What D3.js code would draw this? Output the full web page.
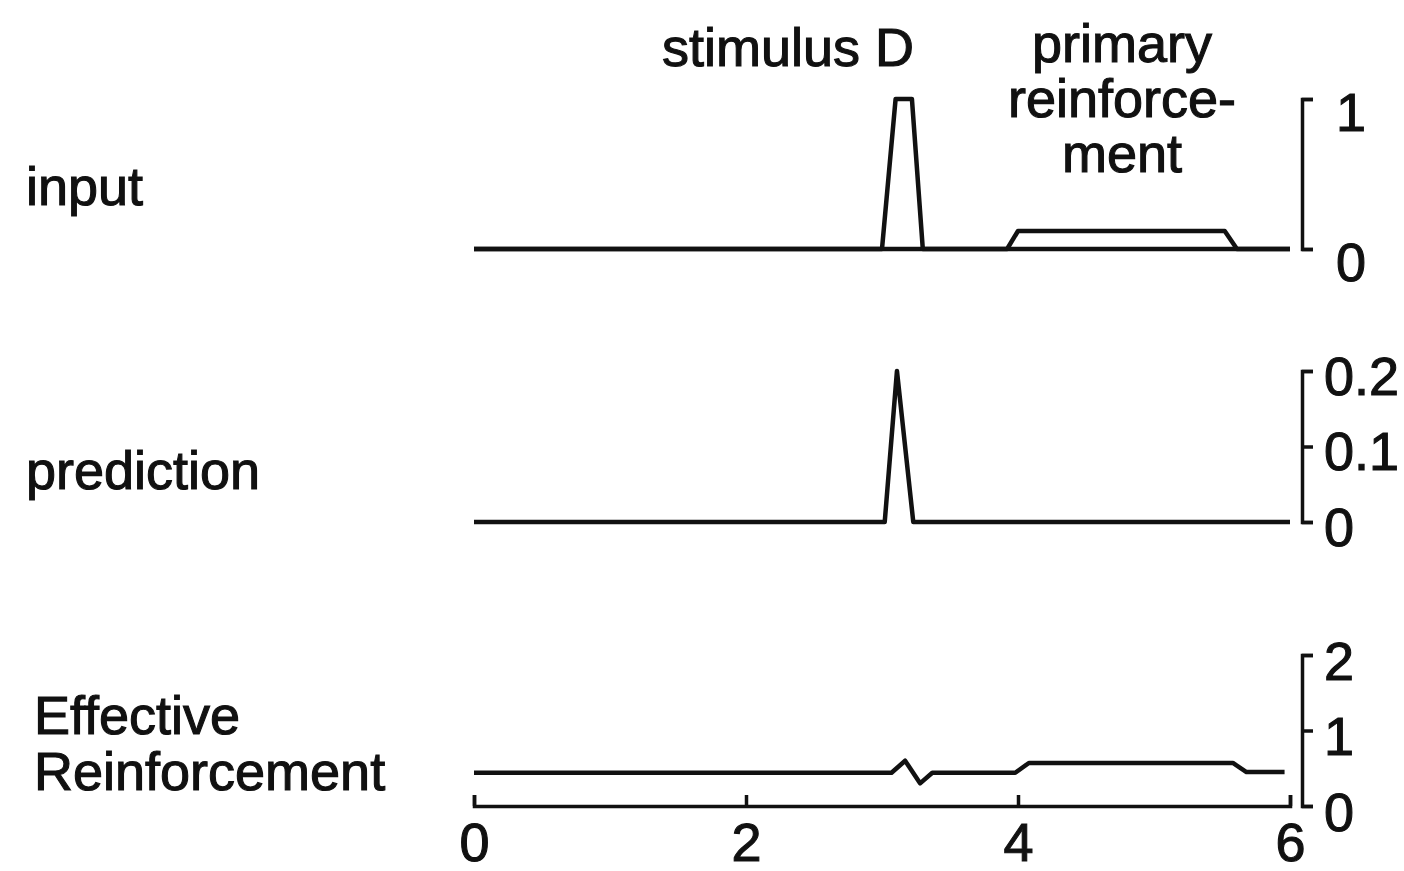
<!DOCTYPE html>
<html>
<head>
<meta charset="utf-8">
<script src="https://cdn.jsdelivr.net/npm/d3@7"></script>
<style>
  html, body { margin: 0; padding: 0; background: #fff; }
  svg { display: block; }
  text { font-family: "Liberation Sans", Arial, Helvetica, sans-serif; fill: #111; stroke: #111; stroke-width: 1.1px; }
</style>
</head>
<body>
<svg id="chart" width="1404" height="871"></svg>
<script>
// Time axis (s)
const xTicks = [0, 2, 4, 6];

// Input: stimulus D pulse and primary reinforcement
const stimulusT = [0, 3.0, 3.1, 3.22, 3.3, 6];
const stimulusV = [0, 0, 1, 1, 0, 0];
const reinforceT = [0, 3.92, 4.0, 5.52, 5.61, 6];
const reinforceV = [0, 0, 0.12, 0.12, 0, 0];

// Prediction
const predictionT = [0, 3.02, 3.11, 3.23, 6];
const predictionV = [0, 0, 0.2, 0, 0];

// Effective reinforcement
const effectiveT = [0, 3.07, 3.17, 3.28, 3.37, 3.98, 4.08, 5.58, 5.68, 5.96];
const effectiveV = [0.44, 0.44, 0.6, 0.3, 0.44, 0.44, 0.57, 0.57, 0.45, 0.45];

// Right-hand axis ticks per panel
const inputTicks = [0, 1];
const predictionTicks = [0, 0.1, 0.2];
const effectiveTicks = [0, 1, 2];

const rowLabels = ["input", "prediction", ["Effective", "Reinforcement"]];

const svg = d3.select("#chart");
const FS = 54;

const x = d3.scaleLinear().domain([0, 6]).range([474, 1290]);
const axisX = 1302;

const zip = (ts, vs) => ts.map((t, i) => [t, vs[i]]);

const panels = [
  { y: d3.scaleLinear().domain([0, 1]).range([249, 99]), ticks: inputTicks,
    traces: [zip(stimulusT, stimulusV), zip(reinforceT, reinforceV)], lx: 1336, ldy: 12 },
  { y: d3.scaleLinear().domain([0, 0.2]).range([522, 371]), ticks: predictionTicks,
    traces: [zip(predictionT, predictionV)], lx: 1324, ldy: 4 },
  { y: d3.scaleLinear().domain([0, 2]).range([806, 655]), ticks: effectiveTicks,
    traces: [zip(effectiveT, effectiveV)], lx: 1324, ldy: 5 }
];

panels.forEach(p => {
  const line = d3.line().x(d => x(d[0])).y(d => p.y(d[1]));
  p.traces.forEach(tr => {
    svg.append("path")
      .attr("d", line(tr))
      .attr("fill", "none")
      .attr("stroke", "#111")
      .attr("stroke-width", 4.5)
      .attr("stroke-linejoin", "round");
  });

  const g = svg.append("g")
    .attr("transform", `translate(${axisX},0)`)
    .call(d3.axisRight(p.y)
      .tickValues(p.ticks)
      .tickFormat(d3.format("~g"))
      .tickSize(11)
      .tickSizeOuter(11));
  g.select(".domain").attr("stroke", "#111").attr("stroke-width", 3.5).attr("fill", "none");
  g.selectAll(".tick line").attr("stroke", "#111").attr("stroke-width", 3.5);
  g.selectAll(".tick text")
    .attr("x", p.lx - axisX)
    .attr("dy", null)
    .attr("y", p.ldy)
    .attr("dominant-baseline", "central")
    .attr("text-anchor", "start")
    .style("font-size", FS + "px")
    .attr("fill", "#111");
});

// Shared time axis beneath the bottom panel, ticks pointing up
const gx = svg.append("g")
  .attr("transform", "translate(0,806)")
  .call(d3.axisBottom(x)
    .tickValues(xTicks)
    .tickFormat(d3.format("d"))
    .tickSizeInner(-11)
    .tickSizeOuter(-11)
    .tickPadding(17));
gx.select(".domain").attr("stroke", "#111").attr("stroke-width", 3.5).attr("fill", "none");
gx.selectAll(".tick line").attr("stroke", "#111").attr("stroke-width", 3.5);
gx.selectAll(".tick text").style("font-size", FS + "px").attr("fill", "#111");

// Row labels
svg.append("text").attr("x", 26).attr("y", 205).style("font-size", FS + "px").text(rowLabels[0]);
svg.append("text").attr("x", 26).attr("y", 489).style("font-size", FS + "px").text(rowLabels[1]);
svg.append("text").attr("x", 34).attr("y", 734).style("font-size", FS + "px").text(rowLabels[2][0]);
svg.append("text").attr("x", 34).attr("y", 790).style("font-size", FS + "px").text(rowLabels[2][1]);

// Event annotations
svg.append("text").attr("x", 788).attr("y", 66).attr("text-anchor", "middle")
  .style("font-size", FS + "px").text("stimulus D");
const ann = svg.append("text").attr("text-anchor", "middle").style("font-size", FS + "px");
[["primary", 62], ["reinforce-", 117], ["ment", 172]].forEach(([s, yy]) => {
  ann.append("tspan").attr("x", 1122).attr("y", yy).text(s);
});
</script>
</body>
</html>
